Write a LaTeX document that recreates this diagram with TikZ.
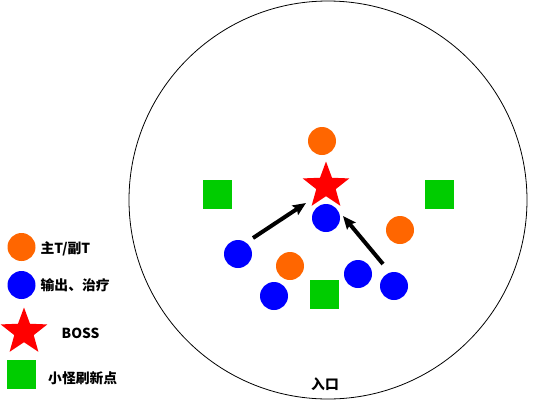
\documentclass[tikz,border=0pt]{standalone}
\usepackage{fontspec}
\setmainfont{Noto Sans CJK SC}
\usetikzlibrary{shapes.geometric,arrows.meta}

\definecolor{tankorange}{RGB}{255,102,0}
\definecolor{dpsblue}{RGB}{0,0,255}
\definecolor{bossred}{RGB}{255,0,0}
\definecolor{spawngreen}{RGB}{0,204,0}

\tikzset{
  tank/.style={circle,fill=tankorange,minimum size=28pt,inner sep=0pt},
  dps/.style={circle,fill=dpsblue,minimum size=28pt,inner sep=0pt},
  boss/.style={star,star points=5,star point ratio=2.4,fill=bossred,minimum size=49pt,inner sep=0pt},
  spawn/.style={rectangle,fill=spawngreen,minimum size=29pt,inner sep=0pt},
  legtext/.style={anchor=west,inner sep=0pt,font=\bfseries\fontsize{13.8pt}{16pt}\selectfont},
  move/.style={line width=4pt,-{Stealth[length=13pt,width=11pt,inset=2pt]}}
}

\begin{document}
\begin{tikzpicture}[x=1pt,y=-1pt]
      \useasboundingbox (0,0) rectangle (550,400);

      % room
      \draw[line width=0.8pt] (328,200) circle[radius=199pt];
      \node[legtext,anchor=center] (entry) at (325,384) {入口};

      \begin{scope}
        \node[tank] (t1) at (322,141) {};
        \node[tank] (t2) at (400,230) {};
        \node[tank] (t3) at (290,266) {};
        \node[boss] (bs) at (326,186) {};
        \node[dps] (d1) at (326,218) {};
        \node[dps] (d2) at (238,254) {};
        \node[dps] (d3) at (274,296) {};
        \node[dps] (d4) at (358,274) {};
        \node[dps] (d5) at (394,286) {};
        \node[spawn] (s1) at (217,194.5) {};
        \node[spawn] (s2) at (439.5,194.5) {};
        \node[spawn] (s3) at (324.5,294.5) {};
      \end{scope}

      \coordinate (m1s) at (253,238);
      \coordinate (m1e) at (306,203);
      \coordinate (m2s) at (383,264);
      \coordinate (m2e) at (343,216);
      \draw[move] (m1s) -- (m1e);
      \draw[move] (m2s) -- (m2e);

      % legend
      \begin{scope}
        \node[tank] (lt) at (21.5,247) {};
        \node[legtext] (ltt) at (40.5,248.5) {主T/副T};
        \node[dps] (ld) at (21.5,285) {};
        \node[legtext] (ldt) at (40.5,285) {输出、治疗};
        \node[boss] (lb) at (24,332) {};
        \node[legtext] (lbt) at (61.5,333) {BOSS};
        \node[spawn] (ls) at (21.2,374.5) {};
        \node[legtext] (lst) at (48,378.5) {小怪刷新点};
      \end{scope}
\end{tikzpicture}
\end{document}
